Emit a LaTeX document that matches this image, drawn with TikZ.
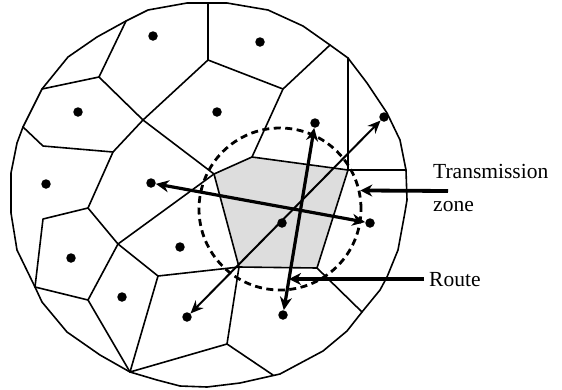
\documentclass[tikz,border=0pt]{standalone}
\usepackage{fontspec}
\setmainfont{Liberation Serif}
\usetikzlibrary{arrows.meta}
\definecolor{zonegrey}{RGB}{221,221,221}
\begin{document}
\begin{tikzpicture}[x=1pt,y=-1pt,
  cell/.style={line width=1.6pt, line join=round, line cap=round},
  dot/.style={circle, fill=black, inner sep=0pt, minimum size=9.5pt},
  thickarrow/.style={line width=3.2pt, {Stealth[length=13pt,width=12pt]}-{Stealth[length=13pt,width=12pt]}},
  thinarrow/.style={line width=2pt, {Stealth[length=13pt,width=11pt]}-{Stealth[length=13pt,width=11pt]}},
  zonestyle/.style={circle, draw, dash pattern=on 7pt off 4.5pt, line width=2.8pt, minimum size=162pt, inner sep=0pt},
  labelarrow/.style={line width=3.8pt, -{Stealth[length=12pt,width=12pt]}},
  lbl/.style={inner sep=0pt, font=\fontsize{21.5}{25}\selectfont}]
\useasboundingbox (0,0) rectangle (562,389);

% Voronoi vertices
\coordinate (bA) at (126,21);
\coordinate (B) at (99,77);
\coordinate (bB) at (42,89);
\coordinate (C) at (143,120);
\coordinate (D) at (208,60);
\coordinate (bD) at (208,3);
\coordinate (E) at (113,152);
\coordinate (G) at (43,146);
\coordinate (bG) at (23,127);
\coordinate (F) at (214,174);
\coordinate (H) at (283,89);
\coordinate (bH) at (330,45);
\coordinate (T1) at (252,157);
\coordinate (T2) at (348,170);
\coordinate (bT2u) at (348,58);
\coordinate (bT2r) at (406,170);
\coordinate (T3) at (317,268);
\coordinate (bT3) at (362,312);
\coordinate (T4) at (239,267);
\coordinate (I) at (118,244);
\coordinate (J) at (88,208);
\coordinate (K) at (43,219);
\coordinate (bK) at (35,287);
\coordinate (L) at (88,300);
\coordinate (bL) at (130,372);
\coordinate (M) at (158,276);
\coordinate (N) at (227,344);
\coordinate (bN) at (273,375);

% shaded cell
\fill[zonegrey] (F) -- (T1) -- (T2) -- (T3) -- (T4) -- cycle;

% outer boundary
\draw[cell] (187,3) -- (227,3) -- (268,10) -- (303,26) -- (330,45) -- (348,58) -- (367,83) -- (387,113) -- (400,140) -- (406,170) -- (407,200) -- (405,212) -- (398,250) -- (387,277) -- (380,290) -- (362,312) -- (347,331) -- (323,351) -- (280,374) -- (240,383) -- (207,387) -- (180,386) -- (157,380) -- (130,372) -- (100,355) -- (67,332) -- (42,302) -- (35,287) -- (17,250) -- (11,213) -- (11,173) -- (17,143) -- (23,127) -- (42,89) -- (68,57) -- (97,37) -- (126,21) -- (148,10) -- cycle;

% cell edges
\draw[cell] (bA) -- (B) -- (bB);
\draw[cell] (B) -- (C) -- (D) -- (bD);
\draw[cell] (D) -- (H) -- (bH);
\draw[cell] (H) -- (T1);
\draw[cell] (C) -- (E) -- (G) -- (bG);
\draw[cell] (C) -- (F);
\draw[cell] (E) -- (J) -- (K) -- (bK);
\draw[cell] (J) -- (I) -- (F);
\draw[cell] (I) -- (L) -- (bK);
\draw[cell] (L) -- (bL);
\draw[cell] (I) -- (M) -- (T4);
\draw[cell] (M) -- (bL) -- (N) -- (T4);
\draw[cell] (N) -- (bN);
\draw[cell] (F) -- (T1) -- (T2) -- (T3) -- (T4) -- cycle;
\draw[cell] (bT2u) -- (T2) -- (bT2r);
\draw[cell] (T3) -- (bT3);

% nodes (sensors)
\node[dot] (n1) at (153,36) {};
\node[dot] (n2) at (260,42) {};
\node[dot] (n3) at (78,112) {};
\node[dot] (n4) at (217,112) {};
\node[dot] (n5) at (46,184) {};
\node[dot] (n6) at (151,183) {};
\node[dot] (n7) at (315,123) {};
\node[dot] (n8) at (384,117) {};
\node[dot] (n9) at (71,258) {};
\node[dot] (n10) at (180,247) {};
\node[dot] (n11) at (122,297) {};
\node[dot] (n12) at (187,317) {};
\node[dot] (n13) at (283,315) {};
\node[dot] (n14) at (282,223) {};
\node[dot] (n15) at (370,223) {};

% transmission zone
\node[zonestyle] (zone) at (280,209) {};

% routes
\draw[thickarrow] (n6) -- (n15);
\draw[thinarrow] (n12) -- (n8);
\draw[thickarrow] (n7) -- (n13);

% labels
\node[lbl, anchor=base west] (tlab) at (433,178) {Transmission};
\node[lbl, anchor=base west] (zlab) at (433,211) {zone};
\node[lbl, anchor=base west] (rlab) at (429,286) {Route};
\coordinate (ta) at (448,191);
\coordinate (ra) at (424,279);
\coordinate (rp) at (289,279);
\draw[labelarrow] (ta) -- (zone.13);
\draw[labelarrow] (ra) -- (rp);
\end{tikzpicture}
\end{document}
